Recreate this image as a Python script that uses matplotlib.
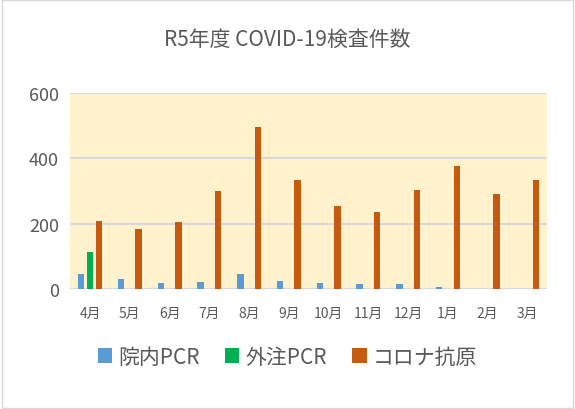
import numpy as np
import matplotlib.pyplot as plt

plt.rcParams['font.family'] = ['Noto Sans CJK JP', 'DejaVu Sans']

months = ["4月", "5月", "6月", "7月", "8月", "9月", "10月", "11月", "12月", "1月", "2月", "3月"]
innai_pcr = [46, 30, 18, 21, 45, 24, 18, 15, 15, 7, 0, 0]
gaichu_pcr = [113, 0, 0, 0, 0, 0, 0, 0, 0, 0, 0, 0]
antigen = [208, 184, 205, 300, 496, 333, 254, 235, 303, 376, 290, 333]

fig = plt.figure(figsize=(5.75, 4.10), dpi=100)
ax = fig.add_axes([0.122, 0.293, 0.83, 0.478])
ax.set_facecolor("#FFF2CC")

x = np.arange(len(months))
w = 0.16
ax.bar(x - 0.22, innai_pcr, w, color="#5B9BD5", label="院内PCR")
ax.bar(x, gaichu_pcr, w, color="#00B050", label="外注PCR")
ax.bar(x + 0.22, antigen, w, color="#C55A11", label="コロナ抗原")

ax.set_ylim(0, 600)
ax.set_xlim(-0.5, len(months) - 0.5)
ax.set_yticks([0, 200, 400, 600])
ax.set_xticks(x)
ax.set_xticklabels(months)
ax.tick_params(axis="y", labelsize=13, length=0, colors="#595959", pad=8)
ax.tick_params(axis="x", labelsize=10, length=0, colors="#595959", pad=12)
ax.grid(axis="y", color="#D9D9D9", linewidth=1.5)
ax.set_axisbelow(True)
for s in ax.spines.values():
    s.set_visible(False)

fig.suptitle("R5年度 COVID-19検査件数", y=0.93, fontsize=15, color="#595959")
fig.legend(loc="lower center", ncol=3, frameon=False, fontsize=15,
           bbox_to_anchor=(0.5, 0.055), handlelength=0.7, handleheight=0.7,
           handletextpad=0.3, columnspacing=1.2, labelcolor="#595959")

fig.patches.append(plt.Rectangle((0.003, 0.003), 0.994, 0.994, transform=fig.transFigure,
                                 fill=False, edgecolor="#D9D9D9", linewidth=1))
fig.savefig("out.png")
